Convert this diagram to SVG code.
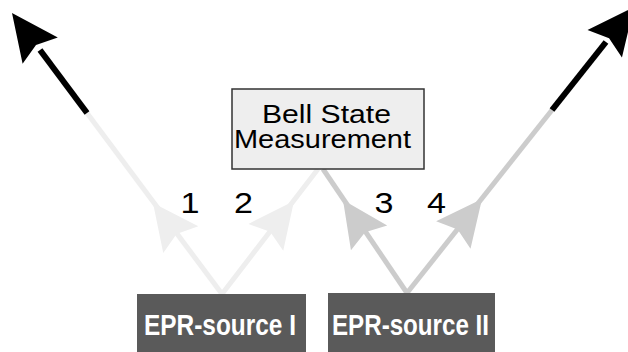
<svg xmlns="http://www.w3.org/2000/svg" width="628" height="352" viewBox="0 0 628 352">
<style>
.lt{fill:none;stroke:#eeeeee;stroke-width:5}
.md{fill:none;stroke:#cccccc;stroke-width:5}
.bk{fill:none;stroke:#000000;stroke-width:6}
.inv{fill:none;stroke:none}
.num{font-family:"Liberation Sans",Arial,sans-serif;font-size:29px;fill:#000;text-anchor:middle}
.bell{font-family:"Liberation Sans",Arial,sans-serif;font-size:26px;fill:#000;text-anchor:middle}
.src{font-family:"Liberation Sans",Arial,sans-serif;font-size:29px;font-weight:bold;fill:#fff;text-anchor:middle}
</style>
<defs>
<marker id="hBk" viewBox="-49 -24 50 48" markerWidth="50" markerHeight="48" refX="0" refY="0" orient="auto" markerUnits="userSpaceOnUse"><path d="M0,0 L-47,-22 L-40,0 L-47,22 Z" fill="#000"/></marker>
<marker id="hLt" viewBox="-49 -24 50 48" markerWidth="50" markerHeight="48" refX="0" refY="0" orient="auto" markerUnits="userSpaceOnUse"><path d="M0,0 L-46,-22 L-39,0 L-46,22 Z" fill="#eeeeee"/></marker>
<marker id="hMd" viewBox="-49 -24 50 48" markerWidth="50" markerHeight="48" refX="0" refY="0" orient="auto" markerUnits="userSpaceOnUse"><path d="M0,0 L-46,-22 L-39,0 L-46,22 Z" fill="#cccccc"/></marker>
</defs>
<g id="connectors">
<path class="lt" d="M222,294 L87,113"/>
<path class="bk" d="M87,113 L40,50"/>
<path class="inv" d="M87,113 L12,13" marker-end="url(#hBk)"/>
<path class="inv" d="M222,294 L153,203" marker-end="url(#hLt)"/>
<path class="lt" d="M222,294 L318,169"/>
<path class="inv" d="M222,294 L294,201" marker-end="url(#hLt)"/>
<path class="md" d="M407,293 L323,169"/>
<path class="inv" d="M407,293 L343,200" marker-end="url(#hMd)"/>
<path class="md" d="M407,293 L552,110"/>
<path class="bk" d="M552,110 L606,42"/>
<path class="inv" d="M552,110 L634,7" marker-end="url(#hBk)"/>
<path class="inv" d="M407,293 L482,199" marker-end="url(#hMd)"/>
<text class="num" x="190" y="213" textLength="19" lengthAdjust="spacingAndGlyphs">1</text>
<text class="num" x="243.5" y="213" textLength="19" lengthAdjust="spacingAndGlyphs">2</text>
<text class="num" x="384" y="213" textLength="19" lengthAdjust="spacingAndGlyphs">3</text>
<text class="num" x="436.5" y="213" textLength="19" lengthAdjust="spacingAndGlyphs">4</text>
</g>
<g id="bell">
<rect x="232" y="89" width="192" height="80" fill="#eeeeee" stroke="#333333" stroke-width="1.5"/>
<text class="bell" x="326.5" y="123" textLength="129" lengthAdjust="spacingAndGlyphs">Bell State</text>
<text class="bell" x="322.5" y="148" textLength="177" lengthAdjust="spacingAndGlyphs">Measurement</text>
</g>
<g id="epr1">
<rect x="137" y="294" width="169" height="58" fill="#5a5a5a"/>
<text class="src" x="220" y="335" textLength="152" lengthAdjust="spacingAndGlyphs">EPR-source I</text>
</g>
<g id="epr2">
<rect x="328" y="293" width="167" height="59" fill="#5a5a5a"/>
<text class="src" x="410.5" y="335" textLength="157" lengthAdjust="spacingAndGlyphs">EPR-source II</text>
</g>
</svg>
